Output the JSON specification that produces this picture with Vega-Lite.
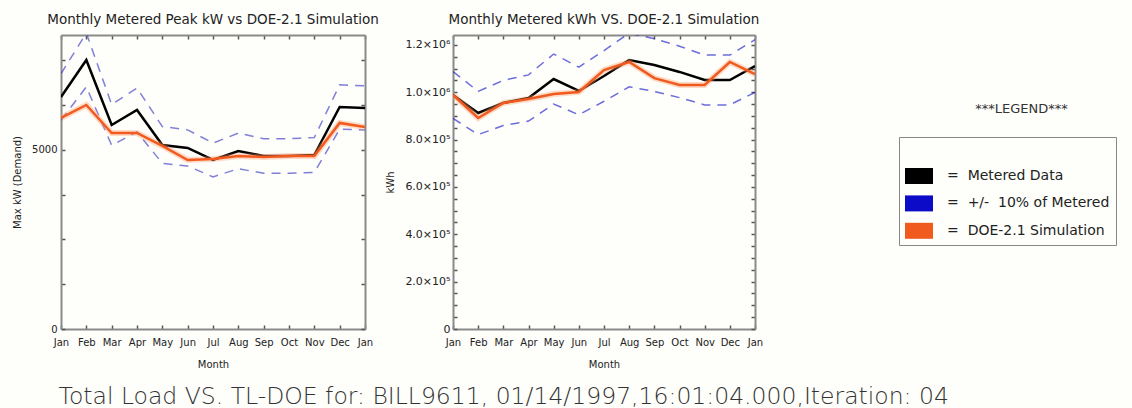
{
  "$schema": "https://vega.github.io/schema/vega-lite/v6.json",
  "background": "#fefefb",
  "padding": {"left": 12, "top": 12, "right": 0, "bottom": 0},
  "autosize": {"type": "pad"},
  "bounds": "flush",
  "spacing": 88,
  "title": {
    "text": "Total Load VS. TL-DOE for: BILL9611, 01/14/1997,16:01:04.000,Iteration: 04",
    "orient": "bottom", "anchor": "start", "font": "DejaVu Sans", "fontSize": 23.5,
    "fontWeight": 300, "color": "#333333", "offset": 16, "dx": 46
  },
  "resolve": {"scale": {"color": "independent"}, "legend": {"color": "independent"}},
  "datasets": {
    "kw": [
      {"m": 0, "series": "metered", "v": 6480}, {"m": 1, "series": "metered", "v": 7513}, {"m": 2, "series": "metered", "v": 5698},
      {"m": 3, "series": "metered", "v": 6117}, {"m": 4, "series": "metered", "v": 5139}, {"m": 5, "series": "metered", "v": 5055},
      {"m": 6, "series": "metered", "v": 4720}, {"m": 7, "series": "metered", "v": 4972}, {"m": 8, "series": "metered", "v": 4832},
      {"m": 9, "series": "metered", "v": 4832}, {"m": 10, "series": "metered", "v": 4860}, {"m": 11, "series": "metered", "v": 6200},
      {"m": 12, "series": "metered", "v": 6173},
      {"m": 0, "series": "sim", "v": 5893}, {"m": 1, "series": "sim", "v": 6256}, {"m": 2, "series": "sim", "v": 5474},
      {"m": 3, "series": "sim", "v": 5474}, {"m": 4, "series": "sim", "v": 5111}, {"m": 5, "series": "sim", "v": 4720},
      {"m": 6, "series": "sim", "v": 4748}, {"m": 7, "series": "sim", "v": 4832}, {"m": 8, "series": "sim", "v": 4804},
      {"m": 9, "series": "sim", "v": 4832}, {"m": 10, "series": "sim", "v": 4832}, {"m": 11, "series": "sim", "v": 5754},
      {"m": 12, "series": "sim", "v": 5642},
      {"m": 0, "series": "upper", "v": 7128}, {"m": 1, "series": "upper", "v": 8264}, {"m": 2, "series": "upper", "v": 6268},
      {"m": 3, "series": "upper", "v": 6729}, {"m": 4, "series": "upper", "v": 5653}, {"m": 5, "series": "upper", "v": 5561},
      {"m": 6, "series": "upper", "v": 5192}, {"m": 7, "series": "upper", "v": 5469}, {"m": 8, "series": "upper", "v": 5315},
      {"m": 9, "series": "upper", "v": 5315}, {"m": 10, "series": "upper", "v": 5346}, {"m": 11, "series": "upper", "v": 6820},
      {"m": 12, "series": "upper", "v": 6790},
      {"m": 0, "series": "lower", "v": 5832}, {"m": 1, "series": "lower", "v": 6762}, {"m": 2, "series": "lower", "v": 5128},
      {"m": 3, "series": "lower", "v": 5505}, {"m": 4, "series": "lower", "v": 4625}, {"m": 5, "series": "lower", "v": 4550},
      {"m": 6, "series": "lower", "v": 4248}, {"m": 7, "series": "lower", "v": 4475}, {"m": 8, "series": "lower", "v": 4349},
      {"m": 9, "series": "lower", "v": 4349}, {"m": 10, "series": "lower", "v": 4374}, {"m": 11, "series": "lower", "v": 5580},
      {"m": 12, "series": "lower", "v": 5556}
    ],
    "kwh": [
      {"m": 0, "series": "metered", "group": "Metered Data", "v": 988700}, {"m": 1, "series": "metered", "group": "Metered Data", "v": 912600},
      {"m": 2, "series": "metered", "group": "Metered Data", "v": 954900}, {"m": 3, "series": "metered", "group": "Metered Data", "v": 976000},
      {"m": 4, "series": "metered", "group": "Metered Data", "v": 1056000}, {"m": 5, "series": "metered", "group": "Metered Data", "v": 1005600},
      {"m": 6, "series": "metered", "group": "Metered Data", "v": 1069000}, {"m": 7, "series": "metered", "group": "Metered Data", "v": 1136500},
      {"m": 8, "series": "metered", "group": "Metered Data", "v": 1115000}, {"m": 9, "series": "metered", "group": "Metered Data", "v": 1086000},
      {"m": 10, "series": "metered", "group": "Metered Data", "v": 1052000}, {"m": 11, "series": "metered", "group": "Metered Data", "v": 1052000},
      {"m": 12, "series": "metered", "group": "Metered Data", "v": 1111000},
      {"m": 0, "series": "sim", "group": "DOE-2.1 Simulation", "v": 988700}, {"m": 1, "series": "sim", "group": "DOE-2.1 Simulation", "v": 891500},
      {"m": 2, "series": "sim", "group": "DOE-2.1 Simulation", "v": 954900}, {"m": 3, "series": "sim", "group": "DOE-2.1 Simulation", "v": 971800},
      {"m": 4, "series": "sim", "group": "DOE-2.1 Simulation", "v": 992900}, {"m": 5, "series": "sim", "group": "DOE-2.1 Simulation", "v": 1001400},
      {"m": 6, "series": "sim", "group": "DOE-2.1 Simulation", "v": 1094000}, {"m": 7, "series": "sim", "group": "DOE-2.1 Simulation", "v": 1128000},
      {"m": 8, "series": "sim", "group": "DOE-2.1 Simulation", "v": 1060000}, {"m": 9, "series": "sim", "group": "DOE-2.1 Simulation", "v": 1031000},
      {"m": 10, "series": "sim", "group": "DOE-2.1 Simulation", "v": 1031000}, {"m": 11, "series": "sim", "group": "DOE-2.1 Simulation", "v": 1128000},
      {"m": 12, "series": "sim", "group": "DOE-2.1 Simulation", "v": 1077000},
      {"m": 0, "series": "upper", "group": "+/- 10% of Metered", "v": 1087600}, {"m": 1, "series": "upper", "group": "+/- 10% of Metered", "v": 1003900},
      {"m": 2, "series": "upper", "group": "+/- 10% of Metered", "v": 1050400}, {"m": 3, "series": "upper", "group": "+/- 10% of Metered", "v": 1073600},
      {"m": 4, "series": "upper", "group": "+/- 10% of Metered", "v": 1161600}, {"m": 5, "series": "upper", "group": "+/- 10% of Metered", "v": 1106200},
      {"m": 6, "series": "upper", "group": "+/- 10% of Metered", "v": 1175900}, {"m": 7, "series": "upper", "group": "+/- 10% of Metered", "v": 1250200},
      {"m": 8, "series": "upper", "group": "+/- 10% of Metered", "v": 1226500}, {"m": 9, "series": "upper", "group": "+/- 10% of Metered", "v": 1194600},
      {"m": 10, "series": "upper", "group": "+/- 10% of Metered", "v": 1157200}, {"m": 11, "series": "upper", "group": "+/- 10% of Metered", "v": 1157200},
      {"m": 12, "series": "upper", "group": "+/- 10% of Metered", "v": 1222100},
      {"m": 0, "series": "lower", "group": "+/- 10% of Metered", "v": 889800}, {"m": 1, "series": "lower", "group": "+/- 10% of Metered", "v": 821300},
      {"m": 2, "series": "lower", "group": "+/- 10% of Metered", "v": 859400}, {"m": 3, "series": "lower", "group": "+/- 10% of Metered", "v": 878400},
      {"m": 4, "series": "lower", "group": "+/- 10% of Metered", "v": 950400}, {"m": 5, "series": "lower", "group": "+/- 10% of Metered", "v": 905000},
      {"m": 6, "series": "lower", "group": "+/- 10% of Metered", "v": 962100}, {"m": 7, "series": "lower", "group": "+/- 10% of Metered", "v": 1022900},
      {"m": 8, "series": "lower", "group": "+/- 10% of Metered", "v": 1003500}, {"m": 9, "series": "lower", "group": "+/- 10% of Metered", "v": 977400},
      {"m": 10, "series": "lower", "group": "+/- 10% of Metered", "v": 946800}, {"m": 11, "series": "lower", "group": "+/- 10% of Metered", "v": 946800},
      {"m": 12, "series": "lower", "group": "+/- 10% of Metered", "v": 999900}
    ]
  },
  "config": {
    "view": {"stroke": null},
    "font": "DejaVu Sans",
    "axis": {
      "domainColor": "#8a8a8a", "domainWidth": 2, "tickColor": "#555555", "tickWidth": 1.5, "tickSize": -4,
      "labelFont": "DejaVu Sans", "labelFontSize": 10, "labelColor": "#222222", "labelFlush": false,
      "labelOverlap": false, "labelBound": false, "titleFont": "DejaVu Sans", "titleFontSize": 10,
      "titleFontWeight": "normal", "titleColor": "#222222", "grid": false
    },
    "title": {"font": "DejaVu Sans", "fontSize": 13.5, "fontWeight": "normal", "color": "#222222", "offset": 8}
  },
  "hconcat": [
    {
      "width": 304, "height": 294,
      "title": "Monthly Metered Peak kW vs DOE-2.1 Simulation",
      "data": {"name": "kw"},
      "resolve": {"axis": {"x": "independent", "y": "independent"}},
      "encoding": {
        "x": {"field": "m", "type": "quantitative", "scale": {"domain": [0, 12]}},
        "y": {"field": "v", "type": "quantitative", "scale": {"domain": [0, 8210]}}
      },
      "layer": [
        {
          "transform": [{"filter": {"field": "series", "oneOf": ["upper", "lower"]}}],
          "mark": {"type": "line", "clip": true, "color": "#4a4ac8", "strokeWidth": 1.5, "strokeDash": [9, 7], "opacity": 0.7},
          "encoding": {
            "detail": {"field": "series"},
            "x": {"field": "m", "type": "quantitative", "axis": {"orient": "bottom", "values": [0,1,2,3,4,5,6,7,8,9,10,11,12], "labelExpr": "['Jan','Feb','Mar','Apr','May','Jun','Jul','Aug','Sep','Oct','Nov','Dec','Jan'][datum.value]", "title": "Month", "labelPadding": 12, "titlePadding": 12}},
            "y": {"field": "v", "type": "quantitative", "axis": {"orient": "left", "values": [0,1250,2500,3750,5000,6250,7500], "labelExpr": "datum.value == 5000 ? '5000' : (datum.value == 0 ? '0' : '')", "title": "Max kW (Demand)", "labelPadding": 8, "titlePadding": 9}}
          }
        },
        {
          "transform": [{"filter": "datum.series == 'metered'"}],
          "mark": {"type": "line", "clip": true, "color": "#000000", "strokeWidth": 2.5},
          "encoding": {
            "x": {"field": "m", "type": "quantitative", "axis": {"orient": "top", "values": [0,1,2,3,4,5,6,7,8,9,10,11,12], "labels": false, "title": null}},
            "y": {"field": "v", "type": "quantitative", "axis": {"orient": "right", "values": [0,1250,2500,3750,5000,6250,7500], "labels": false, "title": null}}
          }
        },
        {
          "transform": [{"filter": "datum.series == 'sim'"}],
          "mark": {"type": "line", "clip": true, "color": "#ff9a66", "strokeWidth": 6, "opacity": 0.35},
          "encoding": {
            "x": {"field": "m", "type": "quantitative", "axis": null},
            "y": {"field": "v", "type": "quantitative", "axis": null}
          }
        },
        {
          "transform": [{"filter": "datum.series == 'sim'"}],
          "mark": {"type": "line", "clip": true, "color": "#f25a1f", "strokeWidth": 2.5},
          "encoding": {
            "x": {"field": "m", "type": "quantitative", "axis": null},
            "y": {"field": "v", "type": "quantitative", "axis": null}
          }
        }
      ]
    },
    {
      "width": 302, "height": 294,
      "title": "Monthly Metered kWh VS. DOE-2.1 Simulation",
      "data": {"name": "kwh"},
      "resolve": {"axis": {"x": "independent", "y": "independent"}},
      "encoding": {
        "x": {"field": "m", "type": "quantitative", "scale": {"domain": [0, 12]}},
        "y": {"field": "v", "type": "quantitative", "scale": {"domain": [0, 1242000]}},
        "color": {
          "field": "group", "type": "nominal",
          "scale": {"domain": ["Metered Data", "+/- 10% of Metered", "DOE-2.1 Simulation"], "range": ["#000000", "#0c0cc8", "#f05a1e"]},
          "legend": {
            "orient": "none", "legendX": 446, "legendY": 102,
            "title": " ", "titleFontSize": 12, "titlePadding": 7,
            "padding": 6, "strokeColor": "#888888",
            "symbolType": "M-1,-0.571H1V0.571H-1Z", "symbolSize": 784, "symbolOpacity": 1,
            "symbolStrokeWidth": 0, "symbolStrokeColor": "transparent",
            "rowPadding": 5.4, "labelOffset": 14,
            "labelFont": "DejaVu Sans", "labelFontSize": 14, "labelColor": "#222222", "labelLimit": 400,
            "labelExpr": "'=\u00a0\u00a0' + replace(datum.label, '/- ', '/-\u00a0\u00a0')",
            "encode": {"legend": {"strokeWidth": {"value": 2}}}
          }
        }
      },
      "layer": [
        {
          "transform": [{"filter": "datum.series == 'legend-only'"}],
          "mark": {"type": "square", "opacity": 1},
          "encoding": {
            "x": {"field": "m", "type": "quantitative", "axis": null},
            "y": {"field": "v", "type": "quantitative", "axis": null}
          }
        },
        {
          "transform": [{"filter": "datum.series == 'metered'"}],
          "mark": {"type": "line", "clip": true, "strokeWidth": 2.5},
          "encoding": {
            "x": {"field": "m", "type": "quantitative", "axis": {"orient": "top", "values": [0,1,2,3,4,5,6,7,8,9,10,11,12], "labels": false, "title": null}},
            "y": {"field": "v", "type": "quantitative", "axis": {"orient": "right", "values": [0,50000,100000,150000,200000,250000,300000,350000,400000,450000,500000,550000,600000,650000,700000,750000,800000,850000,900000,950000,1000000,1050000,1100000,1150000,1200000], "labels": false, "title": null}}
          }
        },
        {
          "transform": [{"filter": {"field": "series", "oneOf": ["upper", "lower"]}}],
          "mark": {"type": "line", "clip": true, "strokeWidth": 1.5, "strokeDash": [9, 7], "opacity": 0.6},
          "encoding": {
            "detail": {"field": "series"},
            "x": {"field": "m", "type": "quantitative", "axis": {"orient": "bottom", "values": [0,1,2,3,4,5,6,7,8,9,10,11,12], "labelExpr": "['Jan','Feb','Mar','Apr','May','Jun','Jul','Aug','Sep','Oct','Nov','Dec','Jan'][datum.value]", "title": "Month", "labelPadding": 12, "titlePadding": 12}},
            "y": {"field": "v", "type": "quantitative", "axis": {"orient": "left", "values": [0,50000,100000,150000,200000,250000,300000,350000,400000,450000,500000,550000,600000,650000,700000,750000,800000,850000,900000,950000,1000000,1050000,1100000,1150000,1200000], "labelFontSize": 11, "labelExpr": "datum.value == 0 ? '0' : (datum.value % 200000 != 0 ? '' : (datum.value >= 1000000 ? format(datum.value / 1000000, '.1f') + '×10⁶' : format(datum.value / 100000, '.1f') + '×10⁵'))", "title": "kWh", "labelPadding": 7, "titlePadding": 9}}
          }
        },
        {
          "transform": [{"filter": "datum.series == 'sim'"}],
          "mark": {"type": "line", "clip": true, "strokeWidth": 6, "opacity": 0.35},
          "encoding": {
            "color": {"value": "#ff9a66"},
            "x": {"field": "m", "type": "quantitative", "axis": null},
            "y": {"field": "v", "type": "quantitative", "axis": null}
          }
        },
        {
          "transform": [{"filter": "datum.series == 'sim'"}],
          "mark": {"type": "line", "clip": true, "strokeWidth": 2.5},
          "encoding": {
            "x": {"field": "m", "type": "quantitative", "axis": null},
            "y": {"field": "v", "type": "quantitative", "axis": null}
          }
        }
      ]
    },
    {
      "width": 357, "height": 148,
      "data": {"values": [{"t": "***LEGEND***"}]},
      "mark": {"type": "text", "font": "DejaVu Sans", "fontSize": 13, "color": "#333333"},
      "encoding": {"text": {"field": "t", "type": "nominal"}}
    }
  ]
}
